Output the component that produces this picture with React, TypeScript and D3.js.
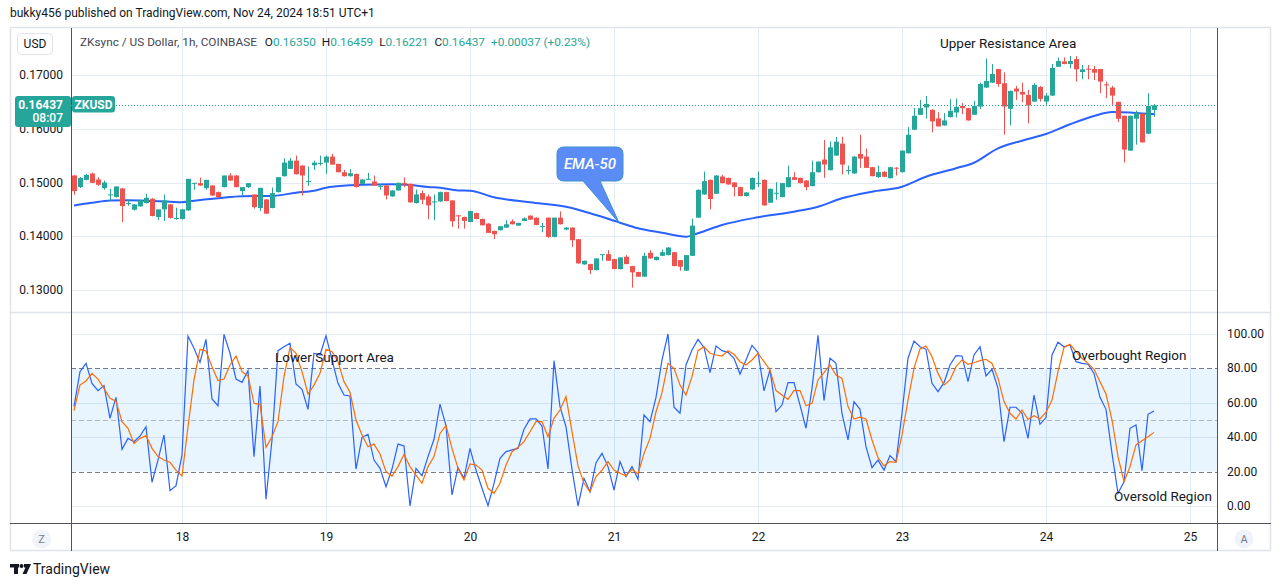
import React from 'react';
import * as d3 from 'd3';

// ZKUSD 1h candles, Nov 17 06:00 -> Nov 24 18:00 (one per hour)
const START = Date.UTC(2024, 10, 17, 6);
const HOUR = 3600 * 1000;

const opens = [
  0.1513, 0.14914, 0.15049, 0.15167, 0.15056, 0.14895, 0.1477, 0.14729, 0.14889, 0.1461,
  0.14494, 0.14556, 0.14617, 0.14698, 0.14358, 0.145, 0.14593, 0.14335, 0.14321, 0.14482,
  0.1499, 0.14988, 0.14895, 0.14944, 0.14821, 0.14914, 0.1513, 0.1513, 0.1484, 0.14914,
  0.14778, 0.14525, 0.14685, 0.14525, 0.14821, 0.15117, 0.15253, 0.15407, 0.15315, 0.1502,
  0.15321, 0.1536, 0.1537, 0.15481, 0.15346, 0.15191, 0.15117, 0.1516, 0.14975, 0.15062,
  0.15019, 0.14935, 0.14944, 0.14741, 0.14852, 0.14988, 0.14975, 0.14617, 0.14803, 0.14741,
  0.14645, 0.14648, 0.14821, 0.14667, 0.14389, 0.14358, 0.14266, 0.14432, 0.14321, 0.14235,
  0.14099, 0.14112, 0.14161, 0.14278, 0.14198, 0.14284, 0.14383, 0.14346, 0.1418, 0.14346,
  0.13988, 0.14346, 0.14124, 0.14161, 0.13945, 0.13476, 0.13482, 0.13371, 0.13661, 0.13667,
  0.13575, 0.1339, 0.13618, 0.13445, 0.13334, 0.13248, 0.13692, 0.13556, 0.13636, 0.13649,
  0.13704, 0.13556, 0.13359, 0.13636, 0.14346, 0.14778, 0.15049, 0.1479, 0.15111, 0.15086,
  0.15, 0.14914, 0.14747, 0.1487, 0.14988, 0.15049, 0.14624, 0.14803, 0.14729, 0.14914,
  0.15099, 0.15086, 0.15037, 0.14932, 0.15191, 0.15427, 0.15229, 0.15501, 0.15723, 0.15223,
  0.15168, 0.15532, 0.15482, 0.15285, 0.151, 0.15198, 0.15081, 0.15275, 0.15192, 0.15544,
  0.15982, 0.1626, 0.16395, 0.16352, 0.16192, 0.16062, 0.16216, 0.16303, 0.16426, 0.16383,
  0.1626, 0.16414, 0.16766, 0.16858, 0.17111, 0.16846, 0.16371, 0.16747, 0.16685, 0.1663,
  0.16506, 0.16778, 0.16506, 0.16617, 0.17154, 0.17253, 0.17204, 0.17296, 0.17056, 0.17117,
  0.17111, 0.17111, 0.16827, 0.16766, 0.165, 0.16241, 0.15593, 0.16186, 0.16278, 0.15908,
  0.1635,
];
const highs = [
  0.1514, 0.151, 0.1516, 0.15185, 0.15099, 0.15037, 0.14883, 0.14926, 0.149, 0.14685,
  0.146, 0.1468, 0.1479, 0.1471, 0.145, 0.14778, 0.146, 0.14531, 0.1451, 0.15068,
  0.14994, 0.15093, 0.15049, 0.1495, 0.1483, 0.1513, 0.15173, 0.15135, 0.14914, 0.14988,
  0.1478, 0.14901, 0.1469, 0.14907, 0.15099, 0.1545, 0.15457, 0.155, 0.1532, 0.15296,
  0.15407, 0.155, 0.155, 0.15531, 0.1535, 0.15234, 0.15253, 0.15165, 0.1506, 0.15179,
  0.1513, 0.14975, 0.1495, 0.1486, 0.15, 0.15093, 0.1498, 0.1487, 0.14852, 0.14778,
  0.14778, 0.1483, 0.1483, 0.1467, 0.14395, 0.14365, 0.14475, 0.1444, 0.1433, 0.1424,
  0.14105, 0.1419, 0.143, 0.14315, 0.14255, 0.1435, 0.1439, 0.1435, 0.14247, 0.1435,
  0.14346, 0.14463, 0.1417, 0.14165, 0.1395, 0.1355, 0.1349, 0.1359, 0.13667, 0.13741,
  0.1358, 0.1361, 0.13649, 0.1345, 0.1334, 0.13692, 0.13741, 0.1362, 0.13754, 0.13795,
  0.1371, 0.1356, 0.1365, 0.14327, 0.1487, 0.15204, 0.15055, 0.15135, 0.15142, 0.1509,
  0.15005, 0.1492, 0.1482, 0.1509, 0.15204, 0.15055, 0.14885, 0.15006, 0.1499, 0.15315,
  0.15191, 0.1509, 0.1504, 0.15407, 0.15395, 0.15791, 0.15766, 0.15846, 0.15852, 0.15316,
  0.1549, 0.15889, 0.1563, 0.1529, 0.15316, 0.15211, 0.1529, 0.15285, 0.156, 0.16031,
  0.16383, 0.16537, 0.16611, 0.1636, 0.16309, 0.1629, 0.1655, 0.16562, 0.16476, 0.1639,
  0.16519, 0.16858, 0.17309, 0.17204, 0.17115, 0.17049, 0.1671, 0.16796, 0.16858, 0.16722,
  0.16846, 0.16796, 0.16661, 0.17204, 0.17327, 0.17327, 0.17352, 0.17352, 0.17185, 0.17185,
  0.17167, 0.17115, 0.16877, 0.16796, 0.16505, 0.16245, 0.16245, 0.1634, 0.16285, 0.16661,
  0.16459,
];
const lows = [
  0.14772, 0.149, 0.1504, 0.1499, 0.14938, 0.14864, 0.14654, 0.1472, 0.14266, 0.14568,
  0.1448, 0.1455, 0.1461, 0.1437, 0.14297, 0.14284, 0.1433, 0.14309, 0.1431, 0.1447,
  0.14864, 0.1494, 0.14864, 0.1475, 0.1472, 0.1491, 0.1503, 0.1491, 0.14759, 0.149,
  0.14513, 0.14469, 0.1442, 0.1452, 0.14815, 0.1511, 0.1525, 0.1515, 0.14759, 0.14938,
  0.15234, 0.15315, 0.1516, 0.1533, 0.1519, 0.1511, 0.1511, 0.1491, 0.1497, 0.15056,
  0.1494, 0.14864, 0.14685, 0.14735, 0.14845, 0.14914, 0.14625, 0.1461, 0.14596, 0.14315,
  0.14297, 0.1464, 0.1465, 0.14173, 0.14142, 0.14142, 0.1426, 0.14315, 0.142, 0.1406,
  0.13951, 0.14105, 0.14155, 0.1422, 0.1419, 0.1428, 0.143, 0.14205, 0.14075, 0.1397,
  0.1398, 0.1422, 0.1411, 0.13803, 0.1349, 0.1347, 0.13297, 0.13365, 0.13544, 0.1354,
  0.13385, 0.13385, 0.1348, 0.13044, 0.13245, 0.13245, 0.13585, 0.1355, 0.1363, 0.13645,
  0.1344, 0.13359, 0.13355, 0.1363, 0.1434, 0.1477, 0.145, 0.14785, 0.14985, 0.1496,
  0.14741, 0.14745, 0.1474, 0.14865, 0.14914, 0.1457, 0.1462, 0.14679, 0.14725, 0.1491,
  0.15045, 0.14985, 0.14852, 0.1493, 0.15185, 0.15087, 0.15225, 0.15495, 0.15149, 0.15149,
  0.1516, 0.15272, 0.1527, 0.15115, 0.15087, 0.151, 0.15075, 0.1513, 0.15185, 0.1554,
  0.15975, 0.16255, 0.16192, 0.15933, 0.1604, 0.16055, 0.1621, 0.1621, 0.16272, 0.1615,
  0.16255, 0.16364, 0.1676, 0.1685, 0.16784, 0.15889, 0.16062, 0.16537, 0.16494, 0.16099,
  0.165, 0.16506, 0.16445, 0.1661, 0.1715, 0.172, 0.17123, 0.16877, 0.1692, 0.1692,
  0.16907, 0.16661, 0.16568, 0.16445, 0.16124, 0.15371, 0.1559, 0.15704, 0.1574, 0.159,
  0.16221,
];
const closes = [
  0.1484, 0.15086, 0.15142, 0.14994, 0.14957, 0.15, 0.14778, 0.14926, 0.14562, 0.14617,
  0.14593, 0.14667, 0.14716, 0.14377, 0.145, 0.14667, 0.1434, 0.1434, 0.145, 0.15068,
  0.14994, 0.14944, 0.15049, 0.14759, 0.14729, 0.1513, 0.15037, 0.14914, 0.14914, 0.14988,
  0.14543, 0.14901, 0.1442, 0.14803, 0.15099, 0.1537, 0.15407, 0.15154, 0.1513, 0.15025,
  0.1537, 0.15364, 0.15481, 0.15333, 0.15191, 0.15117, 0.15173, 0.14914, 0.15056, 0.15068,
  0.14944, 0.14938, 0.14759, 0.14852, 0.14994, 0.14963, 0.1463, 0.14778, 0.14679, 0.14574,
  0.14648, 0.14821, 0.14654, 0.14278, 0.14371, 0.14284, 0.14469, 0.14321, 0.14204, 0.14062,
  0.14037, 0.14186, 0.14223, 0.14223, 0.14247, 0.14334, 0.14309, 0.1421, 0.14192, 0.13988,
  0.14346, 0.14223, 0.14161, 0.13926, 0.13495, 0.13544, 0.13371, 0.13587, 0.13667, 0.13544,
  0.1339, 0.13606, 0.13482, 0.13328, 0.13248, 0.13636, 0.13587, 0.13618, 0.13704, 0.13791,
  0.13445, 0.13433, 0.13649, 0.14198, 0.14864, 0.15025, 0.14692, 0.1513, 0.14988, 0.14963,
  0.14914, 0.14747, 0.14815, 0.15086, 0.14994, 0.14574, 0.14883, 0.1481, 0.14988, 0.15099,
  0.15049, 0.14988, 0.14914, 0.15191, 0.15389, 0.15334, 0.15655, 0.1576, 0.15334, 0.1523,
  0.15482, 0.15445, 0.15272, 0.15118, 0.15192, 0.15106, 0.15285, 0.15272, 0.15593, 0.15889,
  0.16241, 0.16383, 0.16463, 0.16136, 0.16044, 0.16155, 0.16334, 0.16408, 0.16383, 0.16155,
  0.16426, 0.16833, 0.16889, 0.17019, 0.16833, 0.16414, 0.16704, 0.16692, 0.16636, 0.16432,
  0.16815, 0.16556, 0.16617, 0.1713, 0.17259, 0.17204, 0.17259, 0.17105, 0.17105, 0.17105,
  0.17043, 0.16877, 0.16815, 0.16617, 0.16186, 0.15612, 0.16241, 0.1629, 0.15747, 0.16426,
  0.16437,
];

// EMA-50 at a few hours
const emaHours = [
  0, 3, 6, 9, 13, 16, 18, 20, 24, 28, 33, 37, 40, 42, 46, 48, 53, 56, 59, 61, 64, 66, 70, 76, 82,
  87, 91, 94, 98, 102, 104, 108, 114, 120, 124, 128, 133, 138, 142, 147, 150, 154, 158, 162, 166,
  170, 173, 176, 178, 180,
];
const emaValues = [
  0.14572, 0.14622, 0.14665, 0.14669, 0.14656, 0.14643, 0.14634, 0.14661, 0.14706, 0.14745,
  0.14749, 0.1481, 0.14847, 0.14903, 0.14948, 0.14959, 0.14967, 0.14953, 0.14916, 0.14903,
  0.14851, 0.14847, 0.14725, 0.14632, 0.1455, 0.14395, 0.14252, 0.14148, 0.14066, 0.13992,
  0.14055, 0.14209, 0.14353, 0.14457, 0.1455, 0.14706, 0.14829, 0.14922, 0.15108, 0.15264,
  0.15368, 0.15636, 0.15778, 0.15902, 0.16083, 0.16237, 0.16312, 0.16302, 0.16285, 0.16275,
];

const stochK = [
  57.8, 78.1, 82.9, 71.3, 67.1, 70.0, 51.0, 63.2, 32.9, 39.3,
  37.4, 40.7, 46.1, 13.8, 26.7, 41.3, 8.9, 11.8, 29.7, 98.8,
  91.7, 83.5, 96.9, 62.2, 58.3, 99.8, 88.8, 73.8, 71.9, 78.7,
  28.7, 69.8, 3.9, 38.4, 90.3, 92.6, 94.6, 70.9, 67.8, 56.2,
  88.8, 87.8, 99.0, 84.9, 71.3, 64.5, 64.0, 21.5, 39.9, 41.7,
  26.7, 21.9, 11.2, 21.5, 36.0, 34.9, 0.0, 21.9, 17.6, 28.7,
  38.8, 59.2, 46.8, 6.4, 22.4, 16.1, 33.5, 20.9, 10.3, 0.2,
  13.2, 27.7, 31.6, 32.6, 33.5, 44.6, 50.6, 50.6, 46.5, 21.5,
  84.5, 57.8, 46.1, 21.3, 0.0, 16.1, 8.3, 25.2, 30.6, 22.9,
  9.3, 25.8, 17.1, 22.9, 15.5, 52.9, 49.0, 63.2, 84.9, 100.0,
  57.4, 53.9, 82.0, 90.7, 96.9, 92.2, 77.5, 93.0, 90.3, 89.3,
  85.9, 76.7, 84.9, 93.4, 89.3, 66.9, 79.1, 54.8, 58.7, 71.7,
  71.7, 58.7, 45.2, 68.4, 99.2, 61.3, 85.9, 82.9, 53.9, 38.4,
  60.7, 56.2, 34.5, 22.3, 26.7, 20.9, 29.3, 25.8, 53.9, 85.9,
  95.9, 92.6, 91.1, 71.3, 66.5, 71.7, 82.0, 87.4, 87.2, 72.3,
  87.8, 92.6, 75.6, 79.5, 68.4, 37.4, 57.4, 57.4, 53.9, 39.3,
  64.5, 47.5, 51.4, 87.8, 95.2, 92.6, 93.6, 83.9, 82.9, 82.4,
  77.1, 63.2, 56.2, 30.6, 7.4, 14.1, 45.2, 47.1, 20.5, 53.3,
  55.2,
];
const stochD = [
  55.4, 70.3, 72.7, 77.1, 73.8, 68.4, 62.6, 61.0, 49.0, 45.2,
  36.4, 39.3, 40.9, 33.5, 28.7, 26.7, 25.4, 20.9, 17.4, 46.1,
  73.3, 91.1, 90.1, 81.0, 72.9, 73.8, 82.0, 87.2, 78.1, 75.6,
  59.7, 59.1, 34.1, 40.3, 49.0, 75.2, 92.2, 88.8, 78.1, 65.1,
  70.3, 77.1, 91.1, 89.7, 83.9, 72.3, 66.1, 50.0, 41.3, 34.5,
  36.0, 30.2, 20.0, 17.4, 22.9, 30.0, 22.9, 18.0, 13.2, 22.9,
  28.7, 42.2, 46.8, 33.5, 21.9, 15.1, 24.4, 23.8, 20.9, 10.3,
  7.4, 13.2, 23.8, 31.6, 34.1, 37.4, 43.2, 49.0, 49.0, 40.3,
  51.0, 55.8, 63.6, 43.2, 23.3, 13.2, 8.3, 17.1, 20.9, 25.8,
  20.9, 19.0, 17.6, 21.3, 18.6, 30.6, 39.3, 54.8, 65.9, 82.9,
  80.0, 70.3, 64.5, 75.2, 90.3, 92.6, 88.8, 87.8, 87.2, 90.3,
  88.2, 83.9, 82.0, 84.9, 88.8, 83.9, 79.1, 67.1, 64.5, 62.0,
  67.1, 67.1, 58.3, 59.7, 73.3, 77.5, 82.0, 76.2, 74.2, 57.8,
  50.6, 51.6, 50.6, 38.4, 28.1, 23.4, 25.8, 25.4, 41.3, 61.6,
  80.0, 91.3, 93.0, 86.8, 77.1, 70.3, 73.3, 81.0, 84.9, 82.4,
  83.3, 84.5, 85.3, 82.9, 74.2, 60.7, 53.9, 50.6, 55.8, 50.4,
  52.5, 50.6, 54.5, 61.6, 78.1, 92.2, 94.0, 89.7, 85.9, 82.9,
  79.5, 72.3, 65.1, 50.0, 28.7, 14.1, 22.9, 35.5, 38.0, 40.3,
  42.8,
];

const priceTicks = [0.13, 0.14, 0.15, 0.16, 0.17];
const stochTicks = [0, 20, 40, 60, 80, 100];
const stochGrid = [0, 40, 60, 100];
const dayLabels = ['18', '19', '20', '21', '22', '23', '24', '25'];

const UP = '#26a69a';
const DOWN = '#ef5350';
const GRID = '#e4ebf3';
const AXIS = '#50535e';
const TXT = '#131722';
const FONT = 'Roboto, "Liberation Sans", sans-serif';

const L = 71, R = 1217;
const PT = 28, PB = 312, ST = 313, SB = 523, FB = 551;

const t = (i: number) => new Date(START + i * HOUR);

export default function App() {
  const x = d3.scaleUtc().domain([t(0), t(180)]).range([74, 1154]);
  const yP = d3.scaleLinear().domain([0.13, 0.17]).range([290, 75]);
  const yS = d3.scaleLinear().domain([0, 100]).range([506, 334]);
  const fmtP = d3.format('.5f');
  const fmtS = d3.format('.2f');

  const emaLine = d3
    .line<number>()
    .x((_, i) => x(t(emaHours[i])))
    .y((d) => yP(d))
    .curve(d3.curveMonotoneX);
  const stochLine = d3
    .line<number>()
    .x((_, i) => x(t(i)))
    .y((d) => yS(d));

  const last = closes[closes.length - 1];
  const tipIdx = emaHours.indexOf(91);
  const tipX = x(t(91)) - 1;
  const tipY = yP(emaValues[tipIdx]);

  // callout box for the EMA-50 note
  const bx0 = 557, bx1 = 623, by0 = 147, by1 = 181, r = 7;
  const callout = `M${bx0 + r},${by0} H${bx1 - r} Q${bx1},${by0} ${bx1},${by0 + r} V${by1 - r} Q${bx1},${by1} ${bx1 - r},${by1} H600 L${tipX},${tipY} L583,${by1} H${bx0 + r} Q${bx0},${by1} ${bx0},${by1 - r} V${by0 + r} Q${bx0},${by0} ${bx0 + r},${by0} Z`;

  const dayTicks = dayLabels.map((d) => new Date(Date.UTC(2024, 10, +d)));

  return (
    <div style={{ position: 'absolute', left: 0, top: 0 }}>
      <svg width={1281} height={587} style={{ display: 'block', background: '#fff' }} fontFamily={FONT}>
        <defs>
          <clipPath id="pricePane">
            <rect x={L} y={PT} width={R - L} height={PB - PT} />
          </clipPath>
          <clipPath id="stochPane">
            <rect x={L} y={ST} width={R - L} height={SB - ST} />
          </clipPath>
          <clipPath id="belowBadge">
            <rect x={10} y={127} width={61} height={20} />
          </clipPath>
        </defs>
        <rect width={1281} height={587} fill="#fff" />

        {/* header */}
        <text x={10} y={17} fontSize={12} fill={TXT}>
          bukky456 published on TradingView.com, Nov 24, 2024 18:51 UTC+1
        </text>

        {/* grid */}
        {priceTicks.map((p) => (
          <line key={'pg' + p} x1={L} x2={R} y1={Math.round(yP(p)) + 0.5} y2={Math.round(yP(p)) + 0.5} stroke={GRID} />
        ))}
        {stochGrid.map((v) => (
          <line key={'sg' + v} x1={L} x2={R} y1={Math.round(yS(v)) + 0.5} y2={Math.round(yS(v)) + 0.5} stroke={GRID} />
        ))}
        {dayTicks.map((d, i) => (
          <line key={'dg' + i} x1={x(d) + 0.5} x2={x(d) + 0.5} y1={PT} y2={SB} stroke={GRID} />
        ))}

        {/* stochastic band */}
        <rect x={L} y={yS(80)} width={R - L} height={yS(20) - yS(80)} fill="rgba(33,150,243,0.1)" />
        <line x1={L} x2={R} y1={Math.round(yS(80)) + 0.5} y2={Math.round(yS(80)) + 0.5} stroke="#787b86" strokeDasharray="5 3" />
        <line x1={L} x2={R} y1={Math.round(yS(50)) + 0.5} y2={Math.round(yS(50)) + 0.5} stroke="rgba(120,123,134,0.5)" strokeDasharray="5 3" />
        <line x1={L} x2={R} y1={Math.round(yS(20)) + 0.5} y2={Math.round(yS(20)) + 0.5} stroke="#787b86" strokeDasharray="5 3" />

        {/* frame and pane separators */}
        <rect x={10.5} y={PT - 0.5} width={1260} height={FB - PT} fill="none" stroke="#e0e3eb" strokeWidth={1.5} />
        <line x1={10} x2={1271} y1={PB + 0.5} y2={PB + 0.5} stroke="#e0e3eb" strokeWidth={1.5} />
        <line x1={L + 0.5} x2={L + 0.5} y1={PT} y2={FB} stroke={AXIS} />
        <line x1={R + 0.5} x2={R + 0.5} y1={PT} y2={FB} stroke={AXIS} />
        <line x1={10} x2={1271} y1={SB + 0.5} y2={SB + 0.5} stroke={AXIS} />

        {/* price pane */}
        <g clipPath="url(#pricePane)">
          <path d={emaLine(emaValues) || ''} fill="none" stroke="#2962ff" strokeWidth={2} />
          {closes.map((c, i) => {
            const o = opens[i];
            const cx = x(t(i));
            const col = c >= o ? UP : DOWN;
            const top = yP(Math.max(o, c));
            const h = Math.max(1, yP(Math.min(o, c)) - top);
            return (
              <g key={'c' + i}>
                <line x1={cx + 0.5} x2={cx + 0.5} y1={yP(highs[i])} y2={yP(lows[i])} stroke={col} />
                <rect x={cx - 2} y={top} width={5} height={h} fill={col} />
              </g>
            );
          })}
          <line x1={L} x2={R} y1={Math.round(yP(last)) + 0.5} y2={Math.round(yP(last)) + 0.5} stroke={UP} strokeDasharray="1 2" />
        </g>

        {/* EMA-50 callout */}
        <path d={callout} fill="#5b8cf6" stroke="#3a8fd0" strokeWidth={1} />
        <text x={590} y={169} textAnchor="middle" fontSize={15} fontStyle="italic" fontWeight={500} fill="#fff">
          EMA-50
        </text>

        {/* stochastic pane */}
        <g clipPath="url(#stochPane)">
          <path d={stochLine(stochK) || ''} fill="none" stroke="#2962ff" strokeWidth={1.2} />
          <path d={stochLine(stochD) || ''} fill="none" stroke="#ff6d00" strokeWidth={1.2} />
        </g>

        {/* annotations */}
        <text x={940} y={48} fontSize={13.5} fill={TXT}>Upper Resistance Area</text>
        <text x={275} y={362} fontSize={13.5} fill={TXT}>Lower Support Area</text>
        <text x={1072} y={360} fontSize={13.5} fill={TXT}>Overbought Region</text>
        <text x={1114} y={501} fontSize={13.5} fill={TXT}>Oversold Region</text>

        {/* price axis (left); the 0.16 label sits mostly under the last-price badge */}
        {priceTicks.map((p) => (
          <text
            key={'pl' + p}
            x={63}
            y={yP(p) + 4}
            textAnchor="end"
            fontSize={12}
            fill={TXT}
            clipPath={p === 0.16 ? 'url(#belowBadge)' : undefined}
          >
            {fmtP(p)}
          </text>
        ))}
        {/* stoch axis (right) */}
        {stochTicks.map((v) => (
          <text key={'sl' + v} x={1227} y={yS(v) + 4} fontSize={12} fill={TXT}>
            {fmtS(v)}
          </text>
        ))}
        {/* time axis */}
        {dayTicks.map((d, i) => (
          <text key={'tl' + i} x={x(d) + 0.5} y={541} textAnchor="middle" fontSize={12} fill={TXT}>
            {dayLabels[i]}
          </text>
        ))}

        {/* last price label */}
        <rect x={15} y={96} width={56} height={31} rx={3} fill={UP} />
        <rect x={72} y={96} width={43} height={16.5} rx={3} fill={UP} />
        <text x={63} y={108.5} textAnchor="end" fontSize={12} fontWeight={700} fill="#fff">
          {fmtP(last)}
        </text>
        <text x={63} y={122} textAnchor="end" fontSize={12} fontWeight={500} fill="#fff">
          08:07
        </text>
        <text x={93.5} y={108.5} textAnchor="middle" fontSize={12} fontWeight={700} fill="#fff">
          ZKUSD
        </text>

        {/* legend */}
        <rect x={17.5} y={33.5} width={35} height={21} rx={4} fill="#fff" stroke="#e0e3eb" />
        <text x={35} y={48} textAnchor="middle" fontSize={12} fill={TXT}>USD</text>
        <text x={80} y={46} fontSize={11.8} fill="#434651">
          ZKsync / US Dollar, 1h, COINBASE
          <tspan dx={8} fill={TXT}>O</tspan>
          <tspan fill={UP}>{fmtP(opens[180])}</tspan>
          <tspan dx={6} fill={TXT}>H</tspan>
          <tspan fill={UP}>{fmtP(highs[180])}</tspan>
          <tspan dx={6} fill={TXT}>L</tspan>
          <tspan fill={UP}>{fmtP(lows[180])}</tspan>
          <tspan dx={6} fill={TXT}>C</tspan>
          <tspan fill={UP}>{fmtP(closes[180])}</tspan>
          <tspan dx={6} fill={UP}>+0.00037 (+0.23%)</tspan>
        </text>

        {/* bottom corner buttons */}
        <circle cx={41.5} cy={539} r={9.5} fill="#f0f3fa" />
        <text x={41.5} y={543} textAnchor="middle" fontSize={11} fill="#787b86">Z</text>
        <circle cx={1244} cy={539} r={9.5} fill="#f0f3fa" />
        <text x={1244} y={543} textAnchor="middle" fontSize={11} fill="#787b86">A</text>

        {/* TradingView logo */}
        <g fill={TXT}>
          <rect x={10} y={564} width={9} height={3.5} />
          <rect x={14} y={564} width={4} height={10} />
          <circle cx={21.5} cy={566} r={2} />
          <polygon points="24,564 31,564 26.5,574 22.5,574 25.5,567.5 24,567.5" />
        </g>
        <text x={33} y={574} fontSize={14} fill={TXT}>TradingView</text>
      </svg>
    </div>
  );
}
